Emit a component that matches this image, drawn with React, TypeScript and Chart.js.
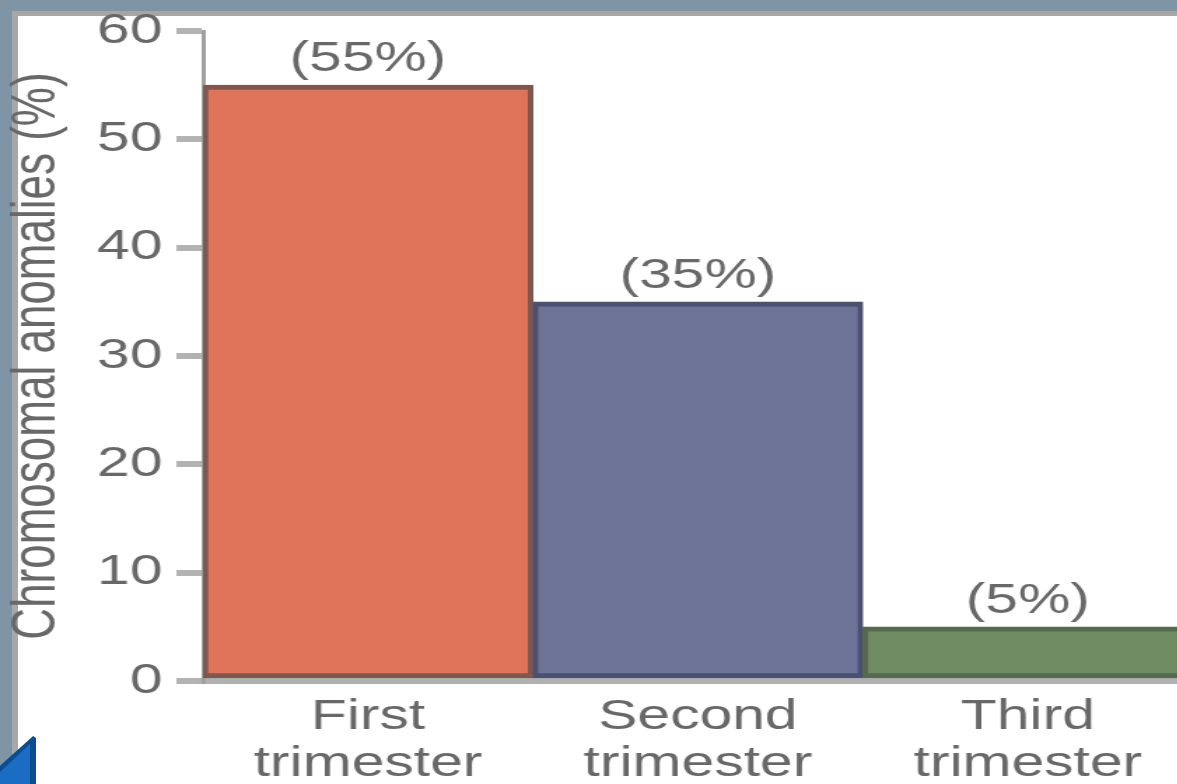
import React, { useEffect, useRef } from 'react';
import { Chart, registerables } from 'chart.js';

Chart.register(...registerables);

// ---- data ----
const categories: string[][] = [
  ['First', 'trimester'],
  ['Second', 'trimester'],
  ['Third', 'trimester'],
];
const values: number[] = [55, 35, 5];
const valueLabels: string[] = ['(55%)', '(35%)', '(5%)'];
const fillColors: string[] = ['#df745a', '#6e7398', '#6f8c62'];
const borderColors: string[] = ['#7e584e', '#4b5070', '#56694f'];
const yMin = 0;
const yMax = 60;
const yStep = 10;
const yTitle = 'Chromosomal anomalies (%)';

// ---- layout ----
const SX = 1.4; // the reference is horizontally stretched
const W = 852;
const H = 800;
const FONT = '"Liberation Sans", Arial, Helvetica, sans-serif';
const TEXT = '#686868';

const valueLabelPlugin = {
  id: 'valueLabels',
  afterDatasetsDraw(chart: any) {
    const ctx = chart.ctx;
    const meta = chart.getDatasetMeta(0);
    ctx.save();
    ctx.font = `42px ${FONT}`;
    ctx.fillStyle = TEXT;
    ctx.textAlign = 'center';
    ctx.textBaseline = 'alphabetic';
    meta.data.forEach((bar: any, i: number) => {
      ctx.fillText(valueLabels[i], bar.x, bar.y - 14);
    });
    ctx.restore();
  },
};

export default function App() {
  const ref = useRef<HTMLCanvasElement | null>(null);

  useEffect(() => {
    if (!ref.current) return;
    const chart = new Chart(ref.current, {
      type: 'bar',
      data: {
        labels: categories,
        datasets: [
          {
            data: values,
            backgroundColor: fillColors,
            borderColor: borderColors,
            borderWidth: { top: 5, left: 4, right: 4, bottom: 5 },
            borderSkipped: false,
            barPercentage: 1,
            categoryPercentage: 1,
          },
        ],
      },
      options: {
        responsive: false,
        animation: false,
        devicePixelRatio: 1,
        layout: { padding: { top: 31, left: 0, right: 0, bottom: 0 } },
        plugins: {
          legend: { display: false },
          tooltip: { enabled: false },
        },
        scales: {
          x: {
            grid: { display: true, drawOnChartArea: false, drawTicks: false },
            border: { display: true, color: '#b0b0b0', width: 6 },
            ticks: {
              font: { family: FONT, size: 42, lineHeight: 1.12 },
              color: TEXT,
              padding: 13,
              maxRotation: 0,
              autoSkip: false,
            },
            afterFit: (s: any) => {
              s.height = H - 681;
            },
          },
          y: {
            min: yMin,
            max: yMax,
            ticks: {
              stepSize: yStep,
              font: { family: FONT, size: 42 },
              color: TEXT,
              padding: 10,
            },
            grid: {
              drawOnChartArea: false,
              drawTicks: true,
              tickLength: 19,
              color: '#b3b3b3',
              lineWidth: 6,
            },
            border: { display: true, color: '#a0a0a0', width: 3 },
            title: {
              display: true,
              text: yTitle,
              font: { family: FONT, size: 44, lineHeight: 1.2 },
              color: TEXT,
              padding: 0,
            },
            afterFit: (s: any) => {
              s.width = 145;
              s.paddingTop = 0;
              s.paddingBottom = 0;
            },
          },
        },
      },
      plugins: [valueLabelPlugin],
    });
    return () => chart.destroy();
  }, []);

  return (
    <div
      style={{
        position: 'fixed',
        left: 0,
        top: 0,
        width: 1177,
        height: 784,
        overflow: 'hidden',
        background: '#7f95a5',
      }}
    >
      <div
        style={{
          position: 'absolute',
          left: 12,
          top: 11,
          width: 1300,
          height: 900,
          background: '#ffffff',
          borderLeft: '6px solid #a8a8a8',
          borderTop: '5px solid #a6a6a6',
        }}
      />
      <div
        style={{
          position: 'absolute',
          left: 0,
          top: 0,
          width: W,
          height: H,
          transform: `scaleX(${SX})`,
          transformOrigin: '0 0',
        }}
      >
        <canvas ref={ref} width={W} height={H} style={{ display: 'block' }} />
      </div>
      <div
        style={{
          position: 'absolute',
          left: 0,
          top: 736,
          width: 36,
          height: 48,
          background: '#0b4d8f',
          clipPath: 'polygon(92% 0%, 100% 4%, 100% 100%, 0% 100%, 0% 62%)',
        }}
      />
      <div
        style={{
          position: 'absolute',
          left: 0,
          top: 744,
          width: 30,
          height: 40,
          background: '#1a6dc3',
          clipPath: 'polygon(100% 0%, 100% 100%, 0% 100%, 0% 70%)',
        }}
      />
    </div>
  );
}
